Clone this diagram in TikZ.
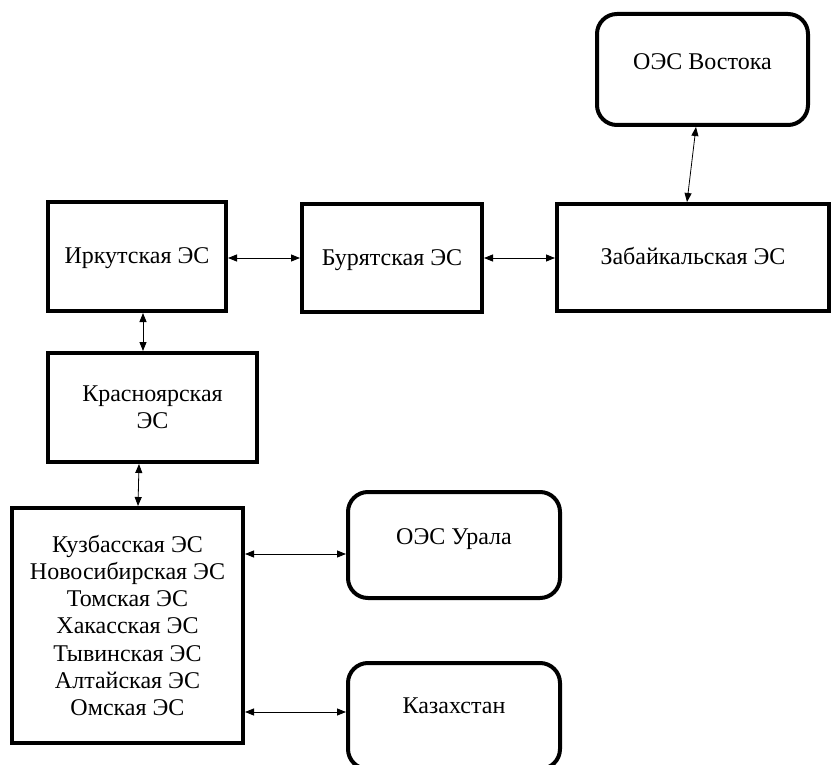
\documentclass[tikz,border=0pt]{standalone}
\usepackage{fontspec}
\setmainfont{Liberation Serif}
\usetikzlibrary{arrows.meta}

\tikzset{
	sysbox/.style={draw, line width=4pt, inner sep=0pt, align=center,
		font=\fontsize{24}{27.3}\selectfont},
	onebox/.style={sysbox, text height=17pt, text depth=2pt},
	extbox/.style={sysbox, rounded corners=20pt, text height=17pt},
	link/.style={line width=0.8pt, {Triangle[length=9pt, width=7pt]}-{Triangle[length=9pt, width=7pt]}}
}

\begin{document}
\begin{tikzpicture}[x=1pt, y=-1pt]

\def\width{831}
\def\height{765}

\path [use as bounding box] (0,0) rectangle (\width,\height);

% BOXES
\node [extbox, minimum width=211pt, minimum height=111pt, text depth=17pt]
	(vostok) at (702.5,69.5) {ОЭС Востока};
\node [onebox, minimum width=178pt, minimum height=109pt] (irk) at (137,256.5) {Иркутская ЭС};
\node [onebox, minimum width=180pt, minimum height=108pt] (bur) at (392,258) {Бурятская ЭС};
\node [onebox, minimum width=272pt, minimum height=107pt] (zab) at (693,257.5) {Забайкальская ЭС};
\node [sysbox, minimum width=209pt, minimum height=109pt] (kras) at (152.5,407.5) {Красноярская\\ЭС};
\node [sysbox, minimum width=231pt, minimum height=235pt] (sib) at (127.5,625.5)
	{Кузбасская ЭС\\Новосибирская ЭС\\Томская ЭС\\Хакасская ЭС\\Тывинская ЭС\\Алтайская ЭС\\Омская ЭС};
\node [extbox, minimum width=212pt, minimum height=106pt, text depth=19pt]
	(ural) at (454,545) {ОЭС Урала};
\node [extbox, minimum width=212pt, minimum height=106pt, text depth=23pt]
	(kaz) at (454,716) {Казахстан};

% LINKS
\draw [link] ([xshift=-6.5pt]vostok.south) -- ([xshift=-6pt]zab.north);
\draw [link] (irk.east |- 0,258) -- (bur.west |- 0,258);
\draw [link] (bur.east |- 0,258) -- (zab.west |- 0,258);
\draw [link] ([xshift=6pt]irk.south) -- ([xshift=-9.5pt]kras.north);
\draw [link] ([xshift=-13.5pt]kras.south) -- ([xshift=10.5pt]sib.north);
\draw [link] (sib.east |- 0,554) -- (ural.west |- 0,554);
\draw [link] (sib.east |- 0,712) -- (kaz.west |- 0,712);

\end{tikzpicture}
\end{document}
